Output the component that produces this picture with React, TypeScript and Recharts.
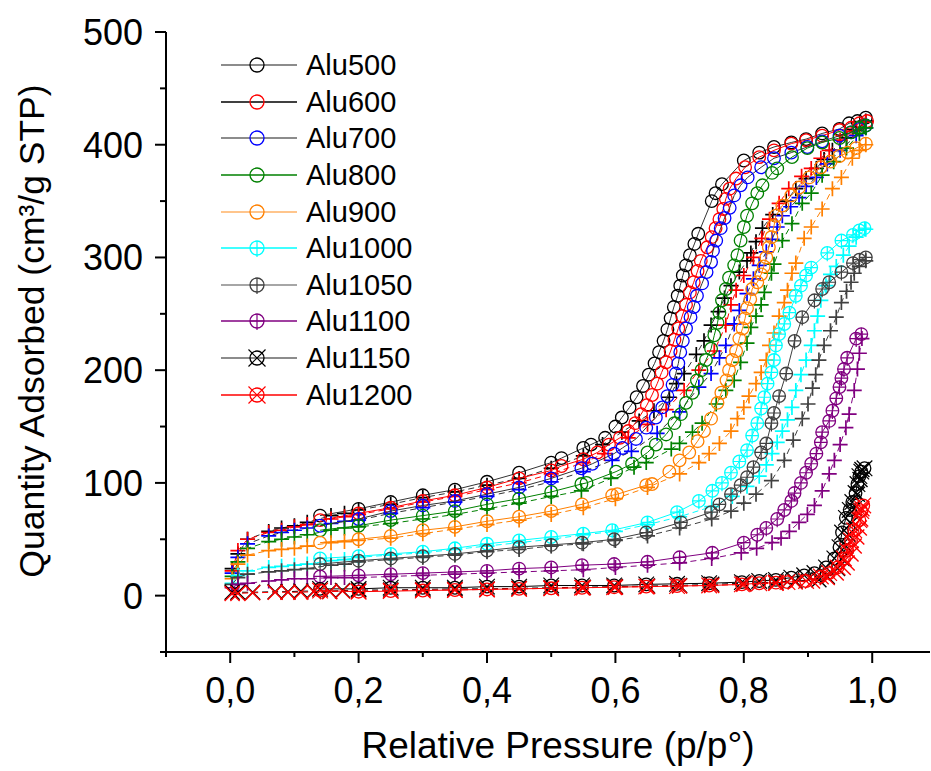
import { ScatterChart, Scatter, XAxis, YAxis, Legend } from 'recharts'

type Pt = [number, number]

const labels = ['Alu500', 'Alu600', 'Alu700', 'Alu800', 'Alu900', 'Alu1000', 'Alu1050', 'Alu1100', 'Alu1150', 'Alu1200']

// adsorption branch (+ / x markers, dashed line)
const alu500Ads: Pt[] = [[0.003, 24], [0.012, 37], [0.027, 50], [0.06, 57], [0.08, 60], [0.1, 62], [0.12, 65], [0.157, 71], [0.178, 73], [0.2, 76], [0.25, 81], [0.3, 87], [0.35, 92], [0.4, 98], [0.45, 104], [0.5, 113], [0.55, 124], [0.58, 134], [0.61, 145], [0.637, 155], [0.66, 164], [0.684, 176], [0.695, 188], [0.707, 197], [0.726, 214], [0.738, 226], [0.749, 240], [0.76, 252], [0.77, 264], [0.78, 275], [0.793, 287], [0.805, 297], [0.811, 304], [0.819, 314], [0.829, 326], [0.845, 338], [0.866, 350], [0.881, 361], [0.897, 370], [0.913, 379], [0.925, 387], [0.938, 395], [0.96, 406], [0.975, 413], [0.99, 421]]
const alu600Ads: Pt[] = [[0.003, 22], [0.012, 40], [0.027, 50], [0.06, 56], [0.08, 58], [0.1, 61], [0.12, 63], [0.157, 68], [0.178, 70], [0.2, 72], [0.25, 77], [0.3, 83], [0.35, 88], [0.4, 94], [0.45, 100], [0.5, 108], [0.55, 118], [0.583, 126], [0.62, 140], [0.65, 152], [0.679, 165], [0.707, 182], [0.73, 200], [0.754, 217], [0.772, 240], [0.78, 258], [0.788, 271], [0.8, 284], [0.815, 300], [0.828, 317], [0.84, 334], [0.855, 348], [0.87, 361], [0.89, 372], [0.905, 379], [0.92, 388], [0.933, 395], [0.95, 404], [0.97, 412], [0.99, 420]]
const alu700Ads: Pt[] = [[0.003, 20], [0.012, 34], [0.027, 46], [0.06, 53], [0.08, 56], [0.1, 58], [0.12, 60], [0.157, 64], [0.178, 66], [0.2, 67], [0.25, 73], [0.3, 78], [0.35, 83], [0.4, 88], [0.45, 94], [0.5, 101], [0.55, 110], [0.595, 120], [0.625, 128], [0.665, 144], [0.7, 163], [0.73, 185], [0.749, 197], [0.762, 211], [0.772, 222], [0.785, 241], [0.793, 253], [0.805, 268], [0.815, 281], [0.824, 293], [0.835, 305], [0.844, 316], [0.852, 327], [0.86, 337], [0.873, 345], [0.886, 353], [0.897, 363], [0.913, 371], [0.93, 383], [0.95, 395], [0.975, 408], [0.99, 415]]
const alu800Ads: Pt[] = [[0.003, 17], [0.012, 30], [0.027, 42], [0.06, 48], [0.08, 50], [0.1, 52], [0.12, 54], [0.157, 58], [0.178, 60], [0.2, 61], [0.25, 64], [0.3, 68], [0.35, 72], [0.4, 77], [0.45, 82], [0.5, 88], [0.547, 93], [0.593, 104], [0.629, 114], [0.648, 118], [0.687, 130], [0.7, 135], [0.72, 145], [0.735, 153], [0.757, 170], [0.772, 182], [0.785, 191], [0.795, 207], [0.805, 224], [0.811, 238], [0.819, 248], [0.827, 258], [0.832, 269], [0.843, 286], [0.847, 294], [0.86, 315], [0.875, 330], [0.891, 348], [0.905, 357], [0.922, 373], [0.94, 385], [0.96, 397], [0.98, 410], [0.99, 415]]
const alu900Ads: Pt[] = [[0.003, 15], [0.012, 28], [0.027, 36], [0.06, 40], [0.08, 41], [0.1, 42], [0.12, 44], [0.157, 47], [0.178, 48], [0.2, 49], [0.25, 51], [0.3, 55], [0.35, 59], [0.4, 63], [0.45, 67], [0.5, 72], [0.55, 78], [0.6, 86], [0.65, 96], [0.7, 108], [0.73, 118], [0.746, 126], [0.762, 135], [0.78, 146], [0.79, 157], [0.8, 167], [0.808, 177], [0.819, 188], [0.827, 198], [0.835, 209], [0.84, 222], [0.847, 233], [0.855, 248], [0.863, 260], [0.868, 271], [0.875, 286], [0.881, 295], [0.894, 317], [0.905, 327], [0.922, 343], [0.938, 361], [0.952, 371], [0.969, 388], [0.98, 395], [0.99, 400]]
const alu1000Ads: Pt[] = [[0.003, 11], [0.012, 18], [0.027, 22], [0.06, 25], [0.08, 26], [0.1, 27], [0.12, 28], [0.157, 31], [0.178, 32], [0.2, 34], [0.25, 36], [0.3, 38], [0.35, 41], [0.4, 44], [0.45, 47], [0.5, 50], [0.55, 54], [0.6, 57], [0.65, 63], [0.7, 70], [0.75, 79], [0.782, 88], [0.805, 97], [0.824, 106], [0.835, 116], [0.844, 126], [0.852, 136], [0.86, 146], [0.868, 156], [0.875, 167], [0.881, 182], [0.889, 196], [0.897, 209], [0.905, 222], [0.91, 235], [0.915, 248], [0.92, 262], [0.928, 275], [0.935, 285], [0.944, 292], [0.955, 302], [0.964, 310], [0.975, 318], [0.99, 325]]
const alu1050Ads: Pt[] = [[0.003, 10], [0.012, 16], [0.027, 19], [0.06, 21], [0.08, 22], [0.1, 23], [0.12, 24], [0.157, 27], [0.178, 28], [0.2, 30], [0.25, 32], [0.3, 34], [0.35, 36], [0.4, 39], [0.45, 41], [0.5, 44], [0.55, 46], [0.6, 49], [0.65, 53], [0.7, 60], [0.75, 68], [0.78, 75], [0.8, 82], [0.819, 90], [0.843, 102], [0.863, 120], [0.877, 138], [0.891, 157], [0.9, 170], [0.907, 184], [0.912, 196], [0.917, 209], [0.925, 222], [0.935, 235], [0.944, 247], [0.952, 260], [0.96, 270], [0.967, 278], [0.972, 286], [0.98, 292], [0.99, 297]]
const alu1100Ads: Pt[] = [[0.003, 7], [0.012, 10], [0.027, 11], [0.06, 13], [0.08, 14], [0.1, 15], [0.12, 15], [0.157, 16], [0.178, 16], [0.2, 16], [0.25, 17], [0.3, 18], [0.35, 19], [0.4, 20], [0.45, 21], [0.5, 22], [0.55, 23], [0.6, 25], [0.65, 27], [0.7, 29], [0.75, 33], [0.796, 38], [0.82, 42], [0.844, 47], [0.858, 51], [0.871, 57], [0.886, 65], [0.899, 72], [0.91, 80], [0.922, 93], [0.933, 108], [0.941, 120], [0.95, 134], [0.959, 149], [0.964, 161], [0.972, 182], [0.977, 201], [0.98, 215], [0.984, 228]]
const alu1150Ads: Pt[] = [[0.003, 3], [0.012, 3], [0.035, 3], [0.07, 3.5], [0.09, 3.5], [0.11, 4], [0.13, 4], [0.155, 4], [0.175, 4.5], [0.2, 5], [0.25, 5], [0.3, 5.5], [0.35, 6], [0.4, 6], [0.45, 6.5], [0.5, 7], [0.55, 7.5], [0.6, 8], [0.65, 8.5], [0.7, 9], [0.75, 10], [0.8, 11], [0.85, 12], [0.88, 13], [0.917, 14], [0.93, 17], [0.946, 24], [0.953, 33], [0.959, 44], [0.963, 54], [0.967, 64], [0.972, 77], [0.977, 90], [0.981, 103], [0.984, 112]]
const alu1200Ads: Pt[] = [[0.003, 2], [0.012, 2], [0.035, 2.5], [0.07, 3], [0.09, 3], [0.11, 3], [0.13, 3.5], [0.155, 3.5], [0.175, 4], [0.2, 4], [0.25, 4.5], [0.3, 5], [0.35, 5], [0.4, 5.5], [0.45, 6], [0.5, 6.5], [0.55, 7], [0.6, 7.5], [0.65, 8], [0.7, 8.5], [0.75, 9], [0.8, 10], [0.85, 11], [0.88, 12], [0.907, 13], [0.93, 16], [0.944, 20], [0.955, 25], [0.961, 29], [0.967, 37], [0.972, 44], [0.976, 52], [0.98, 60], [0.982, 68], [0.984, 77]]

// desorption branch (circle markers, solid line)
const alu500Des: Pt[] = [[0.99, 424], [0.977, 421], [0.964, 419], [0.949, 414], [0.922, 410], [0.897, 405], [0.874, 402], [0.847, 398], [0.824, 393], [0.8, 386], [0.766, 365], [0.756, 357], [0.75, 350], [0.729, 321], [0.723, 312], [0.716, 302], [0.71, 293], [0.705, 284], [0.701, 275], [0.697, 266], [0.691, 256], [0.686, 246], [0.681, 236], [0.675, 226], [0.668, 216], [0.661, 206], [0.652, 196], [0.643, 186], [0.633, 176], [0.622, 167], [0.61, 158], [0.6, 150], [0.584, 140], [0.562, 134], [0.55, 131], [0.516, 122], [0.5, 118], [0.45, 109], [0.4, 101], [0.35, 94], [0.3, 89], [0.25, 83], [0.2, 77], [0.14, 71]]
const alu600Des: Pt[] = [[0.992, 421], [0.98, 419], [0.967, 415], [0.949, 413], [0.922, 408], [0.897, 404], [0.874, 401], [0.847, 395], [0.824, 389], [0.802, 380], [0.788, 370], [0.778, 361], [0.772, 352], [0.768, 343], [0.762, 334], [0.756, 326], [0.75, 318], [0.743, 309], [0.733, 297], [0.728, 288], [0.722, 278], [0.716, 269], [0.71, 258], [0.704, 248], [0.698, 237], [0.692, 227], [0.686, 217], [0.679, 207], [0.672, 198], [0.665, 188], [0.657, 178], [0.649, 169], [0.64, 161], [0.631, 153], [0.62, 146], [0.607, 140], [0.59, 134], [0.572, 127], [0.55, 121], [0.516, 115], [0.5, 111], [0.45, 104], [0.4, 96], [0.35, 89], [0.3, 84], [0.25, 78], [0.2, 73], [0.14, 67]]
const alu700Des: Pt[] = [[0.99, 417], [0.98, 414], [0.967, 411], [0.949, 408], [0.922, 403], [0.899, 398], [0.874, 393], [0.847, 388], [0.827, 380], [0.806, 371], [0.795, 364], [0.785, 355], [0.778, 344], [0.77, 335], [0.764, 326], [0.757, 315], [0.752, 306], [0.749, 296], [0.742, 287], [0.735, 277], [0.727, 266], [0.722, 256], [0.717, 247], [0.71, 237], [0.705, 226], [0.701, 216], [0.698, 206], [0.694, 197], [0.689, 187], [0.681, 177], [0.673, 167], [0.663, 158], [0.648, 149], [0.632, 139], [0.611, 131], [0.598, 126], [0.564, 117], [0.547, 113], [0.5, 104], [0.45, 96], [0.4, 90], [0.35, 84], [0.3, 80], [0.25, 75], [0.2, 68], [0.14, 62]]
const alu800Des: Pt[] = [[0.99, 417], [0.98, 415], [0.967, 411], [0.949, 406], [0.922, 402], [0.899, 397], [0.875, 389], [0.852, 379], [0.844, 375], [0.829, 364], [0.821, 357], [0.813, 348], [0.805, 337], [0.8, 327], [0.795, 315], [0.79, 302], [0.785, 293], [0.777, 282], [0.772, 272], [0.766, 262], [0.762, 251], [0.759, 242], [0.754, 231], [0.749, 219], [0.741, 209], [0.734, 200], [0.727, 191], [0.72, 180], [0.71, 171], [0.702, 161], [0.692, 153], [0.679, 143], [0.663, 134], [0.65, 127], [0.626, 117], [0.601, 110], [0.555, 100], [0.547, 99], [0.5, 92], [0.45, 86], [0.4, 81], [0.35, 75], [0.3, 71], [0.25, 67], [0.2, 62], [0.14, 58]]
const alu900Des: Pt[] = [[0.99, 401], [0.975, 397], [0.962, 393], [0.949, 390], [0.935, 385], [0.92, 380], [0.902, 371], [0.886, 362], [0.874, 355], [0.86, 346], [0.85, 337], [0.847, 328], [0.843, 318], [0.839, 309], [0.835, 300], [0.831, 292], [0.827, 285], [0.821, 278], [0.813, 272], [0.81, 263], [0.805, 255], [0.802, 246], [0.798, 237], [0.793, 228], [0.788, 217], [0.782, 209], [0.777, 200], [0.773, 191], [0.765, 180], [0.759, 171], [0.749, 157], [0.738, 146], [0.728, 137], [0.715, 127], [0.7, 120], [0.684, 110], [0.657, 99], [0.648, 98], [0.603, 90], [0.595, 89], [0.548, 81], [0.5, 75], [0.45, 70], [0.4, 66], [0.35, 61], [0.3, 58], [0.25, 53], [0.2, 50], [0.14, 47]]
const alu1000Des: Pt[] = [[0.988, 326], [0.98, 324], [0.97, 320], [0.952, 315], [0.93, 304], [0.905, 291], [0.897, 284], [0.889, 275], [0.881, 266], [0.871, 251], [0.863, 241], [0.855, 232], [0.85, 222], [0.847, 209], [0.843, 198], [0.837, 188], [0.832, 176], [0.827, 166], [0.821, 153], [0.813, 142], [0.805, 129], [0.793, 119], [0.78, 109], [0.766, 100], [0.751, 93], [0.73, 84], [0.696, 74], [0.65, 65], [0.595, 58], [0.55, 55], [0.5, 52], [0.45, 49], [0.4, 46], [0.35, 42], [0.3, 39], [0.25, 37], [0.2, 35], [0.14, 33]]
const alu1050Des: Pt[] = [[0.99, 300], [0.98, 298], [0.97, 295], [0.952, 287], [0.933, 278], [0.922, 272], [0.91, 262], [0.891, 247], [0.879, 226], [0.866, 197], [0.855, 177], [0.847, 162], [0.843, 153], [0.835, 135], [0.827, 127], [0.815, 114], [0.805, 105], [0.795, 98], [0.78, 90], [0.762, 81], [0.749, 74], [0.702, 65], [0.648, 56], [0.598, 50], [0.548, 47], [0.5, 45], [0.45, 43], [0.4, 40], [0.35, 37], [0.3, 35], [0.25, 33], [0.2, 31], [0.14, 28]]
const alu1100Des: Pt[] = [[0.983, 232], [0.975, 228], [0.961, 211], [0.956, 201], [0.952, 193], [0.949, 185], [0.944, 175], [0.938, 164], [0.933, 155], [0.922, 145], [0.92, 136], [0.913, 126], [0.905, 117], [0.897, 109], [0.889, 100], [0.879, 91], [0.874, 84], [0.863, 76], [0.852, 68], [0.835, 60], [0.821, 54], [0.8, 47], [0.751, 38], [0.7, 34], [0.65, 30], [0.598, 28], [0.548, 27], [0.5, 25], [0.45, 24], [0.4, 22], [0.35, 21], [0.3, 20], [0.25, 19], [0.2, 18], [0.14, 17]]
const alu1150Des: Pt[] = [[0.988, 113], [0.983, 110], [0.98, 106], [0.977, 99], [0.974, 91], [0.969, 83], [0.965, 76], [0.959, 69], [0.953, 56], [0.949, 43], [0.941, 33], [0.928, 25], [0.91, 20], [0.894, 18], [0.874, 16], [0.85, 14], [0.824, 13], [0.797, 12], [0.746, 11], [0.696, 10.5], [0.648, 10], [0.598, 9], [0.548, 9], [0.5, 9], [0.45, 8], [0.4, 8], [0.35, 7], [0.3, 7], [0.25, 7], [0.2, 6], [0.14, 6]]
const alu1200Des: Pt[] = [[0.986, 80], [0.983, 75], [0.98, 67], [0.972, 58], [0.967, 49], [0.961, 40], [0.956, 33], [0.946, 25], [0.933, 20], [0.92, 17], [0.897, 13], [0.868, 12], [0.85, 11.5], [0.824, 11], [0.797, 10], [0.746, 9], [0.696, 8.5], [0.648, 8], [0.598, 7.5], [0.548, 7], [0.5, 6.5], [0.45, 6], [0.4, 5.5], [0.35, 5], [0.3, 4.5], [0.25, 4], [0.2, 3.5], [0.14, 4.5]]

const adsSets = [alu500Ads, alu600Ads, alu700Ads, alu800Ads, alu900Ads, alu1000Ads, alu1050Ads, alu1100Ads, alu1150Ads, alu1200Ads]
const desSets = [alu500Des, alu600Des, alu700Des, alu800Des, alu900Des, alu1000Des, alu1050Des, alu1100Des, alu1150Des, alu1200Des]

const colors = ['#000000', '#FF0000', '#0000FF', '#008000', '#FF8000', '#00FFFF', '#404040', '#800080', '#000000', '#FF0000']
const lineColors = ['#333333', '#FF0000', '#333333', '#008000', '#FF8000', '#00FFFF', '#404040', '#800080', '#000000', '#FF0000']
const legendLineColors = ['#666666', '#000000', '#666666', '#008000', '#FFB266', '#00FFFF', '#888888', '#800080', '#666666', '#FF0000']
const adsMarkers = ['plus', 'plus', 'plus', 'plus', 'plus', 'plus', 'plus', 'plus', 'cross', 'cross']
const desMarkers = ['circle', 'circle', 'circle', 'circle', 'circle', 'circlePlus', 'circlePlus', 'circlePlus', 'circleX', 'circleX']

const xTicks = [-0.1, 0, 0.1, 0.2, 0.3, 0.4, 0.5, 0.6, 0.7, 0.8, 0.9, 1.0]
const yTicks = [-50, 0, 50, 100, 150, 200, 250, 300, 350, 400, 450, 500]

const FONT = "Arial, 'Liberation Sans', sans-serif"

function Marker({ kind, cx, cy, color, r = 6.3 }: { kind: string; cx: number; cy: number; color: string; r?: number }) {
  if (cx == null || cy == null) return null
  const a = 7.5
  if (kind === 'plus') {
    return <path d={`M${cx - a},${cy}H${cx + a}M${cx},${cy - a}V${cy + a}`} stroke={color} strokeWidth={1.7} fill="none" />
  }
  if (kind === 'cross') {
    return <path d={`M${cx - a},${cy - a}L${cx + a},${cy + a}M${cx - a},${cy + a}L${cx + a},${cy - a}`} stroke={color} strokeWidth={1.4} fill="none" />
  }
  const circle = <circle cx={cx} cy={cy} r={r} fill="none" stroke={color} strokeWidth={1.3} />
  if (kind === 'circlePlus') {
    return (
      <g>
        {circle}
        <path d={`M${cx - r},${cy}H${cx + r}M${cx},${cy - r}V${cy + r + 2}`} stroke={color} strokeWidth={1.2} fill="none" />
      </g>
    )
  }
  if (kind === 'circleX') {
    const d = r + 1.5
    return (
      <g>
        {circle}
        <path d={`M${cx - d},${cy - d}L${cx + d},${cy + d}M${cx - d},${cy + d}L${cx + d},${cy - d}`} stroke={color} strokeWidth={1.2} fill="none" />
      </g>
    )
  }
  return circle
}

function XTick(props: any) {
  const { x, y, payload } = props
  const v = payload.value
  const major = Math.round(v * 10) % 2 === 0
  return (
    <g>
      <line x1={x} x2={x} y1={y} y2={y + (major ? 11 : 5)} stroke="#000" strokeWidth={2} />
      {major && (
        <text x={x} y={y + 51} textAnchor="middle" fontSize={36} fontFamily={FONT} fill="#000">
          {v.toFixed(1).replace('.', ',')}
        </text>
      )}
    </g>
  )
}

function YTick(props: any) {
  const { x, y, payload } = props
  const v = payload.value
  const major = v % 100 === 0
  return (
    <g>
      <line x1={x - (major ? 11 : 6)} x2={x} y1={y} y2={y} stroke="#000" strokeWidth={2} />
      {major && (
        <text x={x - 23} y={y + 13} textAnchor="end" fontSize={36} fontFamily={FONT} fill="#000">
          {v}
        </text>
      )}
    </g>
  )
}

function LegendBox() {
  return (
    <div style={{ fontFamily: FONT, fontSize: 29, color: '#000' }}>
      {labels.map((name, i) => (
        <div key={name} style={{ display: 'flex', alignItems: 'center', height: 36.6 }}>
          <svg width={86} height={36} style={{ display: 'block' }}>
            <line x1={6} x2={82} y1={18} y2={18} stroke={legendLineColors[i]} strokeWidth={1.5} />
            <Marker kind={desMarkers[i]} cx={42} cy={18} color={colors[i]} r={7} />
          </svg>
          <span style={{ marginLeft: 5, lineHeight: '36px' }}>{name}</span>
        </div>
      ))}
    </div>
  )
}

export default function App() {
  return (
    <div style={{ position: 'absolute', left: 0, top: 0, width: 931, height: 771, background: '#fff' }}>
      <ScatterChart width={931} height={771} margin={{ top: 32, right: 1, bottom: 0, left: 0 }}>
        <XAxis
          type="number"
          dataKey="x"
          domain={[-0.1, 1.09]}
          allowDataOverflow
          ticks={xTicks}
          interval={0}
          height={119}
          tickSize={0}
          tickMargin={0}
          tickLine={false}
          axisLine={{ stroke: '#000', strokeWidth: 2 }}
          tick={<XTick />}
          label={{
            content: () => (
              <text x={558} y={758} textAnchor="middle" fontSize={37} fontFamily={FONT} fill="#000">
                Relative Pressure (p/p°)
              </text>
            ),
          }}
        />
        <YAxis
          type="number"
          dataKey="y"
          domain={[-50, 500]}
          allowDataOverflow
          ticks={yTicks}
          interval={0}
          width={166}
          tickSize={0}
          tickMargin={0}
          tickLine={false}
          axisLine={{ stroke: '#000', strokeWidth: 2 }}
          tick={<YTick />}
          label={{
            content: () => (
              <text transform="translate(44,331) rotate(-90)" textAnchor="middle" fontSize={35.5} fontFamily={FONT} fill="#000">
                Quantity Adsorbed (cm³/g STP)
              </text>
            ),
          }}
        />
        <Legend
          layout="vertical"
          align="center"
          verticalAlign="middle"
          wrapperStyle={{ left: 215, top: 47, width: 220, height: 370 }}
          content={() => <LegendBox />}
        />
        {labels.map((name, i) => [
          <Scatter
            key={name + '-ads'}
            name={name + ' ads'}
            data={adsSets[i].map(([x, y]) => ({ x, y }))}
            isAnimationActive={false}
            legendType="none"
            line={{ stroke: lineColors[i], strokeWidth: 1, strokeDasharray: '6 4' }}
            lineType="joint"
            shape={(p: any) => <Marker kind={adsMarkers[i]} cx={p.cx} cy={p.cy} color={colors[i]} />}
          />,
          <Scatter
            key={name + '-des'}
            name={name}
            data={desSets[i].map(([x, y]) => ({ x, y }))}
            isAnimationActive={false}
            line={{ stroke: lineColors[i], strokeWidth: 1 }}
            lineType="joint"
            shape={(p: any) => <Marker kind={desMarkers[i]} cx={p.cx} cy={p.cy} color={colors[i]} />}
          />,
        ])}
      </ScatterChart>
    </div>
  )
}
